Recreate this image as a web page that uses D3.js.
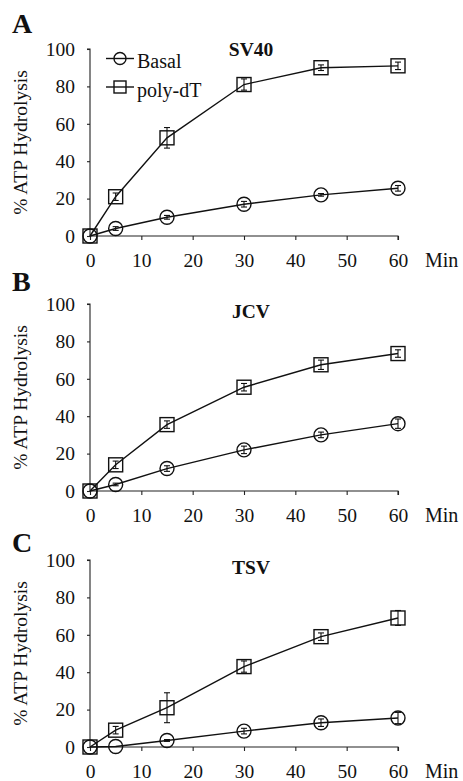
<!DOCTYPE html>
<html>
<head>
<meta charset="utf-8">
<script src="https://cdn.jsdelivr.net/npm/d3@7"></script>
<style>
  html, body { margin: 0; padding: 0; background: #fff; }
  svg { display: block; }
  svg text { font-family: "Liberation Serif", Tinos, "Times New Roman", Times, "DejaVu Serif", serif !important; fill: #111; }
</style>
</head>
<body>
<svg id="chart" width="463" height="781"></svg>
<script>
// ---- data ----
const minutes = [0, 5, 15, 30, 45, 60];
const xTicks = [0, 10, 20, 30, 40, 50, 60];
const yTicks = [0, 20, 40, 60, 80, 100];
const panelLetters = ["A", "B", "C"];
const panelTitles = ["SV40", "JCV", "TSV"];
const seriesNames = ["Basal", "poly-dT"];

const sv40Basal      = [0, 4, 10, 17, 22, 25.5];
const sv40BasalErr   = [0, 1, 1, 1.5, 0.7, 1.5];
const sv40PolyDT     = [0, 21, 52.5, 81, 90, 91];
const sv40PolyDTErr  = [0, 2, 5.5, 3, 1.5, 2];

const jcvBasal       = [0, 3.5, 12, 22, 30, 36];
const jcvBasalErr    = [0, 0.7, 1.5, 2, 1.5, 2.5];
const jcvPolyDT      = [0, 14, 35.5, 55.5, 67.5, 73.5];
const jcvPolyDTErr   = [0, 2, 2, 2, 2.5, 2];

const tsvBasal       = [0, 0.3, 3.5, 8.5, 13, 15.5];
const tsvBasalErr    = [0, 0, 0.5, 1.5, 2, 3];
const tsvPolyDT      = [0, 9, 21, 43, 59, 69];
const tsvPolyDTErr   = [0, 2, 8, 3, 2, 4];

const panelData = [
  { basal: sv40Basal, basalErr: sv40BasalErr, poly: sv40PolyDT, polyErr: sv40PolyDTErr },
  { basal: jcvBasal,  basalErr: jcvBasalErr,  poly: jcvPolyDT,  polyErr: jcvPolyDTErr },
  { basal: tsvBasal,  basalErr: tsvBasalErr,  poly: tsvPolyDT,  polyErr: tsvPolyDTErr }
];

// ---- layout ----
const FONT = '"Liberation Serif", Tinos, "Times New Roman", Times, "DejaVu Serif", serif';
const svg = d3.select("#chart");
const x = d3.scaleLinear().domain([0, 60]).range([90, 398]);
const zeroY = [236, 491, 747];
const plotH = 187;
const letterY = [33, 291, 552];
const titleY = [56, 318, 574];

const fs = 19.5;

panelLetters.forEach((letter, i) => {
  const g = svg.append("g").attr("font-family", FONT);
  const y = d3.scaleLinear().domain([0, 100]).range([zeroY[i], zeroY[i] - plotH]);
  const d = panelData[i];

  // panel letter
  g.append("text").attr("x", 12).attr("y", letterY[i])
    .attr("font-size", 28).attr("font-weight", "bold").text(letter);

  // y axis
  const yAxis = d3.axisLeft(y).tickValues(yTicks).tickSize(3).tickPadding(12).tickFormat(d3.format("d"));
  const ya = g.append("g").attr("transform", `translate(${x(0)},0)`).call(yAxis);
  ya.attr("font-family", FONT);
  ya.select(".domain").attr("stroke", "#222").attr("stroke-width", 1.1).attr("d", `M-3,${y(100)}H0V${y(0)}`);
  ya.selectAll(".tick line").attr("stroke", "#222").attr("stroke-width", 1.1);
  ya.selectAll(".tick text").attr("font-size", fs).attr("fill", "#111");

  // x axis
  const xAxis = d3.axisBottom(x).tickValues(xTicks).tickSize(4).tickPadding(13.5).tickFormat(d3.format("d"));
  const xa = g.append("g").attr("transform", `translate(0,${y(0)})`).call(xAxis);
  xa.attr("font-family", FONT);
  xa.select(".domain").attr("stroke", "#222").attr("stroke-width", 1.1).attr("d", `M${x(0)},0H${x(60)}V4`);
  xa.selectAll(".tick line").attr("stroke", "#222").attr("stroke-width", 1.1);
  xa.selectAll(".tick text").attr("font-size", fs).attr("fill", "#111");
  g.append("text").attr("x", 425).attr("y", y(0) + 31).attr("font-size", 20).text("Min");

  // y label
  g.append("text")
    .attr("transform", `translate(27,${(y(0) + y(100)) / 2}) rotate(-90)`)
    .attr("text-anchor", "middle").attr("font-size", 19.5)
    .text("% ATP Hydrolysis");

  // title
  g.append("text").attr("x", 251).attr("y", titleY[i]).attr("text-anchor", "middle")
    .attr("font-size", 19.5).attr("font-weight", "bold").text(panelTitles[i]);

  const line = d3.line().x((v, k) => x(minutes[k])).y(v => y(v));
  const series = [
    { vals: d.basal, errs: d.basalErr, shape: "circle" },
    { vals: d.poly, errs: d.polyErr, shape: "square" }
  ];
  series.forEach(s => {
    g.append("path").attr("d", line(s.vals)).attr("fill", "none")
      .attr("stroke", "#111").attr("stroke-width", 1.4);
    // error bars
    s.vals.forEach((v, k) => {
      const e = s.errs[k];
      if (e <= 0) return;
      const cx = x(minutes[k]);
      const eg = g.append("g").attr("stroke", "#111").attr("stroke-width", 1.1);
      eg.append("line").attr("x1", cx).attr("x2", cx).attr("y1", y(v - e)).attr("y2", y(v + e));
      eg.append("line").attr("x1", cx - 3).attr("x2", cx + 3).attr("y1", y(v - e)).attr("y2", y(v - e));
      eg.append("line").attr("x1", cx - 3).attr("x2", cx + 3).attr("y1", y(v + e)).attr("y2", y(v + e));
    });
    // markers
    s.vals.forEach((v, k) => {
      const cx = x(minutes[k]), cy = y(v);
      if (s.shape === "circle") {
        g.append("circle").attr("cx", cx).attr("cy", cy).attr("r", 7)
          .attr("fill", "none").attr("stroke", "#111").attr("stroke-width", 1.4);
      } else {
        g.append("rect").attr("x", cx - 7).attr("y", cy - 7).attr("width", 14).attr("height", 14)
          .attr("fill", "none").attr("stroke", "#111").attr("stroke-width", 1.4);
      }
    });
  });

  // legend (panel A only)
  if (i === 0) {
    const lg = g.append("g");
    const rows = [{ name: seriesNames[0], cy: 58.5, ty: 68, shape: "circle" },
                  { name: seriesNames[1], cy: 87, ty: 96.5, shape: "square" }];
    rows.forEach(r => {
      lg.append("line").attr("x1", 106).attr("x2", 134).attr("y1", r.cy).attr("y2", r.cy)
        .attr("stroke", "#111").attr("stroke-width", 1.4);
      if (r.shape === "circle") {
        lg.append("circle").attr("cx", 120).attr("cy", r.cy).attr("r", 6)
          .attr("fill", "none").attr("stroke", "#111").attr("stroke-width", 1.4);
      } else {
        lg.append("rect").attr("x", 114).attr("y", r.cy - 6).attr("width", 12).attr("height", 12)
          .attr("fill", "none").attr("stroke", "#111").attr("stroke-width", 1.4);
      }
      lg.append("text").attr("x", 137).attr("y", r.ty).attr("font-size", 20).text(r.name);
    });
  }
});
</script>
</body>
</html>
